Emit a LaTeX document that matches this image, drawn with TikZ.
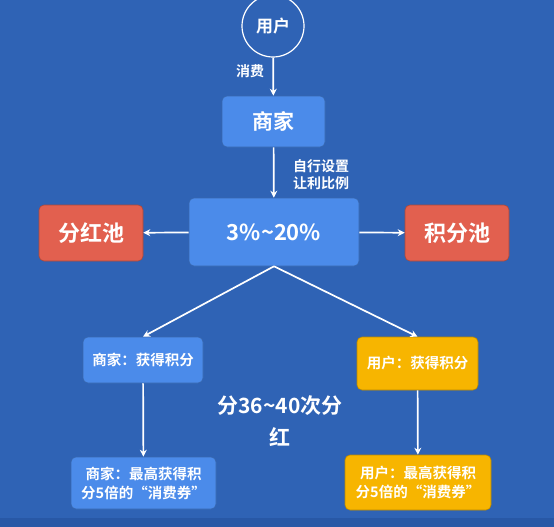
\documentclass[tikz,border=0pt]{standalone}
\usepackage{fontspec}
\setmainfont{Noto Sans CJK SC}[BoldFont={Noto Sans CJK SC Bold}]
\usetikzlibrary{arrows.meta}
\definecolor{bg}{RGB}{47,99,181}
\definecolor{bgdark}{RGB}{40,88,166}
\definecolor{boxblue}{RGB}{75,139,234}
\definecolor{boxred}{RGB}{226,96,79}
\definecolor{boxyel}{RGB}{247,181,0}
\tikzset{
  box/.style={rounded corners=5pt, draw=black!25!#1, line width=0.6pt, fill=#1, text=white, font=\bfseries, inner sep=0pt, align=center},
  arr/.style={draw=white, line width=1.7pt, -{Stealth[length=7pt,width=7pt]}},
  lbl/.style={text=white, font=\bfseries\fontsize{14}{17}\selectfont, align=left, inner sep=0pt}
}
\begin{document}
\begin{tikzpicture}[x=1pt,y=-1pt]
\fill[bg] (0,0) rectangle (554,527);
\fill[bgdark] (0,518) rectangle (554,527);
\useasboundingbox (0,0) rectangle (554,527);
% user circle
\node[circle, draw=white, line width=1.2pt, fill=bg, minimum size=62pt, inner sep=0pt, text=white, font=\bfseries\fontsize{17}{20}\selectfont] (user) at (273,26) {用户};
% merchant
\node[box=boxblue, minimum width=103pt, minimum height=51pt, font=\bfseries\fontsize{21}{24}\selectfont] (shop) at (273.5,121.5) {商家};
% ratio
\node[box=boxblue, minimum width=170pt, minimum height=68pt, font=\bfseries\fontsize{22}{26}\selectfont] (ratio) at (274,232) {3\%\char`\~20\%};
% pools
\node[box=boxred, minimum width=104pt, minimum height=56pt, font=\bfseries\fontsize{22}{26}\selectfont] (red) at (91,233) {分红池};
\node[box=boxred, minimum width=104pt, minimum height=56pt, font=\bfseries\fontsize{22}{26}\selectfont] (pts) at (457,233) {积分池};
% second row
\node[box=boxblue, minimum width=120pt, minimum height=46pt, font=\bfseries\fontsize{14.5}{18}\selectfont] (sp) at (143,360) {商家：获得积分};
\node[box=boxyel, minimum width=121pt, minimum height=53pt, font=\bfseries\fontsize{14.5}{18}\selectfont] (up) at (417.5,363.5) {用户：获得积分};
% bottom row
\node[box=boxblue, minimum width=145pt, minimum height=52pt, font=\bfseries\fontsize{14.5}{19}\selectfont] (sv) at (143.5,483) {商家：最高获得积\\分5倍的“消费券”};
\node[box=boxyel, minimum width=146pt, minimum height=55pt, font=\bfseries\fontsize{14.5}{19}\selectfont] (uv) at (418,482.5) {用户：最高获得积\\分5倍的“消费券”};
% middle text
\node[text=white, font=\bfseries\fontsize{21}{32}\selectfont, align=center, inner sep=0pt] (mid) at (280,421) {分36\char`\~40次分\\红};
% labels
\node[lbl] (lxf) at (250,71) {消费};
\node[lbl, anchor=west] (lzx) at (293,175) {自行设置\\让利比例};
% connectors
\draw[arr] (user) -- (shop);
\draw[arr] (shop) -- (ratio);
\draw[arr] (ratio) -- (red);
\draw[arr] (ratio) -- (pts);
\coordinate (apex) at (ratio.south);
\draw[arr] (apex) -- (sp.north);
\draw[arr] (apex) -- (up.north);
\draw[arr] (sp) -- (sv);
\draw[arr] (up) -- (uv);
\end{tikzpicture}
\end{document}
